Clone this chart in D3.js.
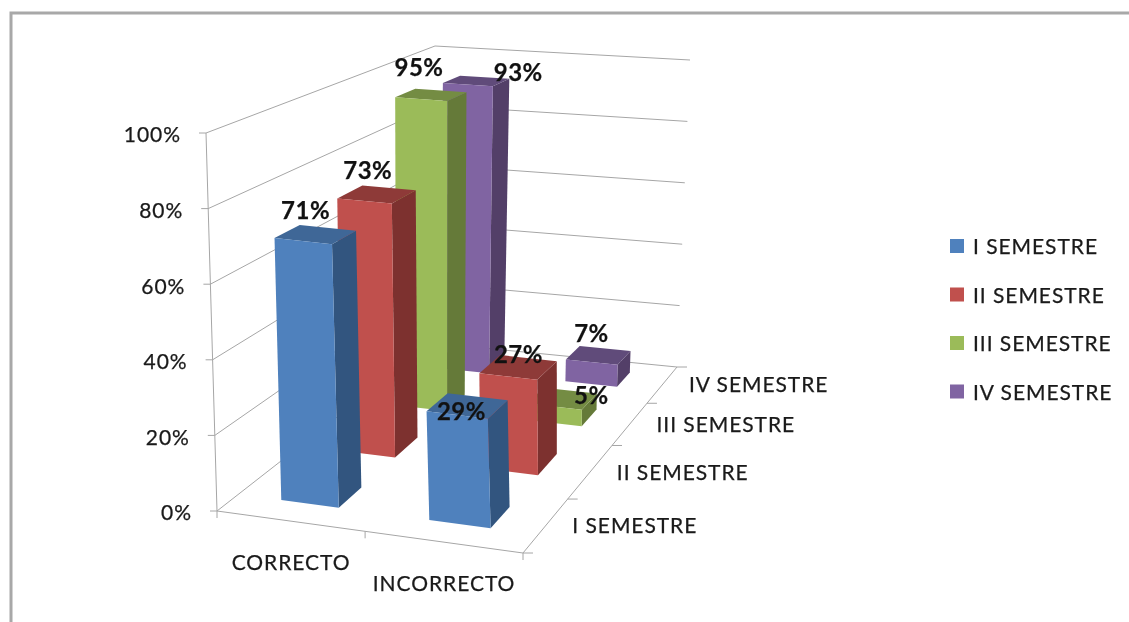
<!DOCTYPE html>
<html><head><meta charset="utf-8">
<script src="https://cdn.jsdelivr.net/npm/d3@7"></script>
<style>html,body{margin:0;background:#fff}svg{display:block;filter:blur(0.45px)}text{font-family:Lato,Carlito,sans-serif;fill:#1a1a1a;stroke:#1a1a1a;stroke-width:.25px;letter-spacing:.95px}</style>
</head><body><svg id="c" width="1129" height="622"></svg>
<script>
const categories = ["CORRECTO", "INCORRECTO"];
const seriesNames = ["I SEMESTRE", "II SEMESTRE", "III SEMESTRE", "IV SEMESTRE"];
const sem1 = [0.71, 0.29];
const sem2 = [0.73, 0.27];
const sem3 = [0.95, 0.05];
const sem4 = [0.93, 0.07];
const valueTicks = [0, 0.2, 0.4, 0.6, 0.8, 1];
const seriesValues = [sem1, sem2, sem3, sem4];
const frontColors = ["#4f81bd", "#c0504d", "#9bbb59", "#8064a2"];
const sideColors  = ["#32557f", "#7d312f", "#657a39", "#533f68"];
const topColors   = ["#3f6797", "#8e3a38", "#748c43", "#604b7a"];
// label nudges relative to the centre of each bar's top face [series][category]
const labelDx = [[-10, -6], [-9, 0], [-12, 29], [42, -7]];
const labelDy = [[-24, 6], [-24, -13], [-27, -3], [-8, -22]];

// cube corners on screen: [bottom, top] for front-left, front-right, back-left, back-right
const FL = [[217, 511], [206, 133]];
const FR = [[523, 553], [511, 163]];
const BL = [[432, 343], [435, 46]];
const BR = [[677, 367], [690, 60]];

const uBand = d3.scaleBand().domain(categories).range([0, 1]).paddingInner(0.604).paddingOuter(0.302).align(0.49);
const dBand = d3.scaleBand().domain(seriesNames).range([0, 4]).paddingInner(0.6).paddingOuter(0.3).align(0.57);
const across = d3.scaleLinear().domain([0, 0.5, 1]).range([0, 0.484, 1]);
const depth = d3.scaleLinear().domain([0, 1, 2, 3, 4]).range([0, 0.29, 0.578, 0.805, 1]);
const height = d3.scaleLinear().domain([0, 1]).range([0, 1]);
const barHeight = d3.scaleLinear().domain([0, 1]).range([0, 0.993]);
const lerp = d3.interpolateNumber;

function projRaw(a, d, w) {
  const u = across(a), v = depth(d);
  return [0, 1].map(k => {
    const at = c => lerp(c[0][k], c[1][k])(w);
    return lerp(lerp(at(FL), at(FR))(u), lerp(at(BL), at(BR))(u))(v);
  });
}
const proj = (a, d, val) => projRaw(a, d, height(val));
const projBar = (a, d, val) => projRaw(a, d, barHeight(val));

const svg = d3.select("#c");
const line = d3.line();
const poly = pts => line(pts) + "Z";
const grey = "#a6a6a6";

// outer frame
svg.append("path").attr("d", line([[11, 622], [11, 13], [1129, 13]])).attr("fill", "none").attr("stroke", "#a8a8a8").attr("stroke-width", 3);

// walls
const g = svg.append("g").attr("fill", "none").attr("stroke", grey).attr("stroke-width", 1);
valueTicks.forEach(t => {
  g.append("path").attr("d", line([proj(0, 0, t), proj(0, 4, t), proj(1, 4, t)]));
  const p = proj(0, 0, t);
  g.append("path").attr("d", line([[p[0] - 7, p[1]], p]));
  svg.append("text").attr("x", p[0] - 25).attr("y", p[1] + 2).attr("dy", ".35em")
    .attr("text-anchor", "end").attr("font-size", 21).text(d3.format(".0%")(t));
});
g.append("path").attr("d", line([proj(0, 0, 0), proj(0, 0, 1)]));
g.append("path").attr("d", line([proj(0, 0, 0), proj(1, 0, 0), proj(1, 4, 0)]));
[0, 0.5, 1].forEach(u => {
  const p = proj(u, 0, 0);
  g.append("path").attr("d", line([p, [p[0], p[1] + 7]]));
});
[0, 1, 2, 3, 4].forEach(d => {
  const p = proj(1, d, 0);
  g.append("path").attr("d", line([p, [p[0] + 10, p[1]]]));
});

// bars, back to front
const bars = svg.append("g");
const labels = [];
d3.range(seriesNames.length - 1, -1, -1).forEach(j => {
  categories.forEach((cat, i) => {
    const u0 = uBand(cat), u1 = u0 + uBand.bandwidth();
    const d0 = dBand(seriesNames[j]), d1 = d0 + dBand.bandwidth();
    const val = seriesValues[j][i];
    bars.append("path").attr("d", poly([projBar(u1, d0, 0), projBar(u1, d1, 0), projBar(u1, d1, val), projBar(u1, d0, val)])).attr("fill", sideColors[j]);
    bars.append("path").attr("d", poly([projBar(u0, d0, val), projBar(u1, d0, val), projBar(u1, d1, val), projBar(u0, d1, val)])).attr("fill", topColors[j]);
    bars.append("path").attr("d", poly([projBar(u0, d0, 0), projBar(u1, d0, 0), projBar(u1, d0, val), projBar(u0, d0, val)])).attr("fill", frontColors[j]);
    const c = projBar((u0 + u1) / 2, (d0 + d1) / 2, val);
    labels.push({x: c[0] + labelDx[j][i], y: c[1] + labelDy[j][i], t: d3.format(".0%")(val)});
  });
});
svg.append("g").selectAll("text").data(labels).join("text")
  .attr("x", d => d.x).attr("y", d => d.y).attr("dy", ".35em").attr("text-anchor", "middle")
  .attr("font-size", 24).attr("font-weight", 700).style("fill", "#111").style("letter-spacing", ".5px").text(d => d.t);

// axis labels
categories.forEach((cat, i) => {
  const p = proj((i + 0.5) / 2, 0, 0);
  svg.append("text").attr("x", p[0]).attr("y", p[1] + 41).attr("dy", ".35em").attr("text-anchor", "middle")
    .attr("font-size", 21).text(cat);
});
seriesNames.forEach((s, j) => {
  const p = proj(1, j + 0.5, 0);
  svg.append("text").attr("x", p[0] + 27).attr("y", p[1]).attr("dy", ".35em").attr("font-size", 21).text(s);
});

// legend
const legendY = d3.scalePoint().domain(seriesNames).range([246, 391.5]);
seriesNames.forEach((s, j) => {
  const y = legendY(s);
  svg.append("rect").attr("x", 950).attr("y", y - 7).attr("width", 14).attr("height", 14).attr("fill", frontColors[j]);
  svg.append("text").attr("x", 973).attr("y", y + 1).attr("dy", ".35em").attr("font-size", 21).text(s);
});
</script></body></html>
